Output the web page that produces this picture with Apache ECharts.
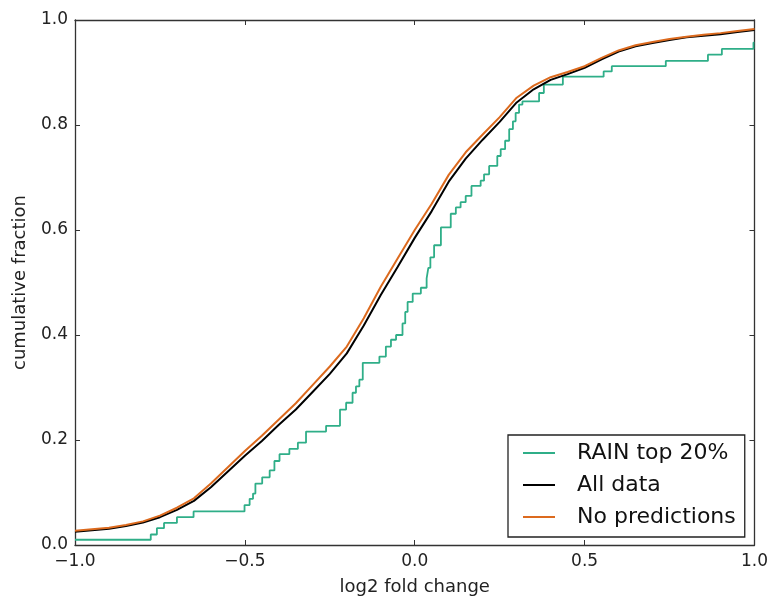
<!DOCTYPE html>
<html>
<head>
<meta charset="utf-8">
<script src="https://cdn.jsdelivr.net/npm/echarts@6/dist/echarts.min.js"></script>
<style>
html,body{margin:0;padding:0;background:#fff;}
#chart{width:771px;height:601px;}
</style>
</head>
<body>
<div id="chart"></div>
<script>
// ---- data ----
const seriesNames = ["RAIN top 20%", "All data", "No predictions"];
const rainX = [-1.000,-0.777,-0.759,-0.738,-0.700,-0.651,-0.501,-0.486,-0.476,-0.469,-0.449,-0.427,-0.413,-0.398,-0.369,-0.344,-0.320,-0.261,-0.220,-0.202,-0.183,-0.173,-0.163,-0.153,-0.104,-0.085,-0.070,-0.055,-0.036,-0.028,-0.021,-0.006,0.018,0.035,0.040,0.046,0.057,0.077,0.106,0.121,0.135,0.150,0.167,0.194,0.204,0.219,0.243,0.253,0.266,0.278,0.289,0.297,0.307,0.317,0.366,0.380,0.436,0.556,0.580,0.739,0.863,0.904,0.997,1.000];
const rainY = [0.010,0.020,0.032,0.042,0.053,0.064,0.076,0.088,0.098,0.117,0.129,0.142,0.160,0.173,0.183,0.195,0.216,0.227,0.258,0.271,0.290,0.302,0.315,0.347,0.359,0.378,0.391,0.400,0.422,0.444,0.463,0.479,0.490,0.508,0.528,0.548,0.571,0.605,0.631,0.643,0.653,0.665,0.684,0.694,0.706,0.722,0.741,0.754,0.770,0.792,0.807,0.823,0.839,0.845,0.861,0.877,0.892,0.902,0.912,0.922,0.934,0.945,0.957,0.957];
const curveX = [-1.00,-0.95,-0.90,-0.85,-0.80,-0.75,-0.70,-0.65,-0.60,-0.55,-0.50,-0.45,-0.40,-0.35,-0.30,-0.25,-0.20,-0.15,-0.10,-0.05,0.00,0.05,0.10,0.15,0.20,0.25,0.30,0.35,0.40,0.45,0.50,0.55,0.60,0.65,0.70,0.75,0.80,0.85,0.90,0.95,1.00];
const allDataY = [0.025,0.028,0.031,0.036,0.043,0.053,0.067,0.084,0.110,0.140,0.170,0.198,0.229,0.258,0.292,0.326,0.365,0.418,0.476,0.530,0.585,0.636,0.692,0.736,0.772,0.806,0.843,0.868,0.886,0.897,0.909,0.925,0.940,0.950,0.956,0.962,0.967,0.970,0.973,0.977,0.981];
const noPredY = [0.027,0.030,0.033,0.038,0.045,0.056,0.071,0.089,0.117,0.148,0.179,0.208,0.239,0.270,0.305,0.340,0.378,0.432,0.492,0.546,0.600,0.650,0.705,0.748,0.782,0.815,0.852,0.875,0.891,0.901,0.912,0.928,0.942,0.952,0.958,0.964,0.968,0.972,0.975,0.979,0.983];
const colors = ["#2fae88", "#000000", "#dc6a1e"];

const pairs = (xs, ys) => xs.map((x, i) => [x, ys[i]]);
const FONT = "DejaVu Sans";
const fmt = v => { const s = v.toFixed(1); return s.replace('-', '\u2212'); };

const chart = echarts.init(document.getElementById('chart'), null, {renderer: 'canvas'});
const axisLine = {show: true, onZero: false, lineStyle: {color: '#333', width: 1.3}};
const tick = {show: true, inside: true, length: 5, lineStyle: {color: '#333', width: 1}};
chart.setOption({
  animation: false,
  backgroundColor: '#fff',
  grid: {left: 75, right: 15, top: 20, bottom: 53, containLabel: false},
  xAxis: [
    {type: 'value', min: -1, max: 1, interval: 0.5, position: 'bottom',
     name: 'log2 fold change', nameLocation: 'middle', nameGap: 33,
     nameTextStyle: {fontFamily: FONT, fontSize: 18, color: '#222'},
     axisLine: axisLine, axisTick: tick, splitLine: {show: false},
     axisLabel: {formatter: fmt, fontFamily: FONT, fontSize: 17, color: '#222', margin: 8}},
    {type: 'value', min: -1, max: 1, interval: 0.5, position: 'top',
     axisLine: axisLine, axisTick: tick, splitLine: {show: false}, axisLabel: {show: false}}
  ],
  yAxis: [
    {type: 'value', min: 0, max: 1, interval: 0.2, position: 'left',
     name: 'cumulative fraction', nameLocation: 'middle', nameGap: 46,
     nameTextStyle: {fontFamily: FONT, fontSize: 18, color: '#222'},
     axisLine: axisLine, axisTick: tick, splitLine: {show: false},
     axisLabel: {formatter: fmt, fontFamily: FONT, fontSize: 17, color: '#222', margin: 7}},
    {type: 'value', min: 0, max: 1, interval: 0.2, position: 'right',
     axisLine: axisLine, axisTick: tick, splitLine: {show: false}, axisLabel: {show: false}}
  ],
  legend: {
    orient: 'vertical', left: 508, top: 435,
    padding: [7, 9, 9, 15], itemGap: 10,
    itemWidth: 32, itemHeight: 2, icon: 'rect',
    backgroundColor: '#fff', borderColor: '#222', borderWidth: 1.3, borderRadius: 0,
    textStyle: {fontFamily: FONT, fontSize: 22, color: '#111', lineHeight: 22, padding: [0, 0, 0, 17]},
    data: seriesNames
  },
  series: [
    {name: seriesNames[0], type: 'line', step: 'end', data: pairs(rainX, rainY),
     showSymbol: false, symbol: 'none', color: colors[0], lineStyle: {width: 1.8, color: colors[0]}, z: 2},
    {name: seriesNames[1], type: 'line', data: pairs(curveX, allDataY),
     showSymbol: false, symbol: 'none', color: colors[1], lineStyle: {width: 2, color: colors[1]}, z: 3},
    {name: seriesNames[2], type: 'line', data: pairs(curveX, noPredY),
     showSymbol: false, symbol: 'none', color: colors[2], lineStyle: {width: 2, color: colors[2]}, z: 4}
  ]
});
</script>
</body>
</html>
